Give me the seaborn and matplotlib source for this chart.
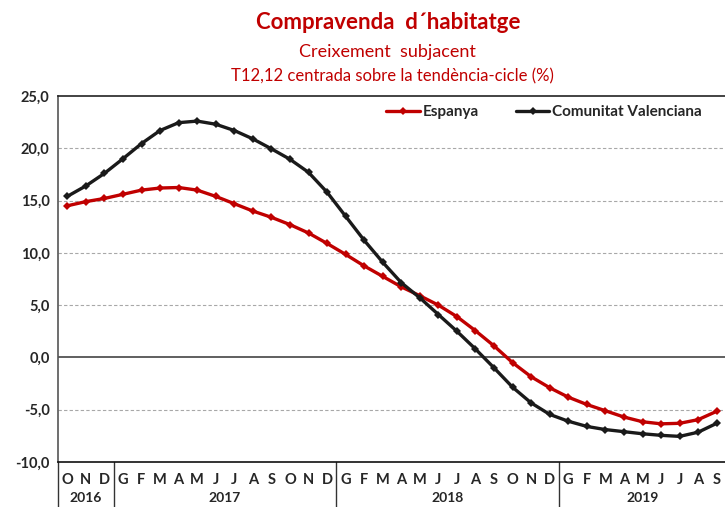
import pandas as pd
import numpy as np
import seaborn as sns
import matplotlib.pyplot as plt
import matplotlib.transforms as mtransforms

# months Oct 2016 - Sep 2019
months = ['O', 'N', 'D'] + ['G', 'F', 'M', 'A', 'M', 'J', 'J', 'A', 'S', 'O', 'N', 'D'] * 2 \
    + ['G', 'F', 'M', 'A', 'M', 'J', 'J', 'A', 'S']
years = ['2016', '2017', '2018', '2019']
year_centers = [1, 8.5, 20.5, 31]
year_breaks = [2.5, 14.5, 26.5]

espanya = [14.5, 14.9, 15.2,
           15.6, 16.0, 16.2, 16.25, 16.0, 15.4, 14.7, 14.0, 13.4, 12.7, 11.9, 10.9,
           9.85, 8.75, 7.75, 6.75, 5.9, 5.0, 3.9, 2.55, 1.1, -0.5, -1.85, -2.9,
           -3.8, -4.5, -5.1, -5.7, -6.15, -6.35, -6.3, -5.95, -5.15]
valenciana = [15.4, 16.4, 17.6,
              19.0, 20.45, 21.7, 22.45, 22.6, 22.3, 21.7, 20.9, 19.95, 18.95, 17.7, 15.8,
              13.5, 11.2, 9.1, 7.15, 5.7, 4.1, 2.5, 0.8, -1.0, -2.85, -4.35, -5.45,
              -6.1, -6.6, -6.9, -7.1, -7.3, -7.45, -7.55, -7.15, -6.3]

sns.set_style("white")
plt.rcParams['font.family'] = ['Lato', 'DejaVu Sans']

df = pd.DataFrame({'x': np.arange(len(months)), 'Espanya': espanya,
                   'Comunitat Valenciana': valenciana})
long = df.melt(id_vars='x', var_name='serie', value_name='valor')

fig = plt.figure(figsize=(7.25, 5.07), dpi=100)
ax = fig.add_axes([58 / 725, 45 / 507, 668 / 725, 366 / 507])

red = '#C00000'
black = '#1a1a1a'
sns.lineplot(data=long, x='x', y='valor', hue='serie', palette=[red, black],
             marker='D', markersize=4, markeredgewidth=0, linewidth=2.4, ax=ax)

ax.set_xlim(-0.5, 35.5)
ax.set_ylim(-10, 25)

for v in [20, 15, 10, 5, -5]:
    ax.axhline(v, color='#a8a8a8', linestyle=(0, (3, 2)), linewidth=0.8, zorder=0)
ax.axhline(0, color='#444444', linewidth=1.2, zorder=0)

ax.spines['right'].set_visible(False)
ax.spines['top'].set_color('#222222')
ax.spines['top'].set_linewidth(1.2)
ax.spines['left'].set_color('#555555')
ax.spines['left'].set_linewidth(1.2)
ax.spines['bottom'].set_color('#111111')
ax.spines['bottom'].set_linewidth(1.2)

ax.set_yticks(np.arange(-10, 26, 5))
ax.set_yticklabels([f'{v:.1f}'.replace('.', ',') for v in np.arange(-10, 26, 5)],
                   fontsize=10.5, fontweight='bold')
ax.set_xticks(df['x'])
ax.set_xticklabels(months, fontsize=10.5, fontweight='bold')
ax.tick_params(axis='both', length=0)
ax.tick_params(axis='x', pad=8)
ax.tick_params(axis='y', pad=6)
ax.set_xlabel('')
ax.set_ylabel('')

trans = mtransforms.blended_transform_factory(ax.transData, ax.transAxes)
for xb in [-0.5] + year_breaks:
    ax.plot([xb, xb], [0, -0.15], color='#333333', linewidth=1, transform=trans, clip_on=False)
for yr, xc in zip(years, year_centers):
    ax.text(xc, -0.098, yr, transform=trans, ha='center', va='center',
            fontsize=10, fontweight='bold')

ax.legend(loc='upper right', bbox_to_anchor=(0.985, 1.012), ncol=2, frameon=False,
          prop={'weight': 'bold', 'size': 11}, handlelength=2.2, handletextpad=0.2,
          columnspacing=2.4)

fig.text(0.535, 0.955, 'Compravenda  d\u00b4habitatge', ha='center', va='center',
         color=red, fontsize=16, fontweight='bold')
fig.text(0.535, 0.897, 'Creixement  subjacent', ha='center', va='center',
         color=red, fontsize=13)
fig.text(0.541, 0.85, 'T12,12 centrada sobre la tend\u00e8ncia-cicle (%)', ha='center',
         va='center', color=red, fontsize=12)

fig.savefig('out.png', dpi=100)
